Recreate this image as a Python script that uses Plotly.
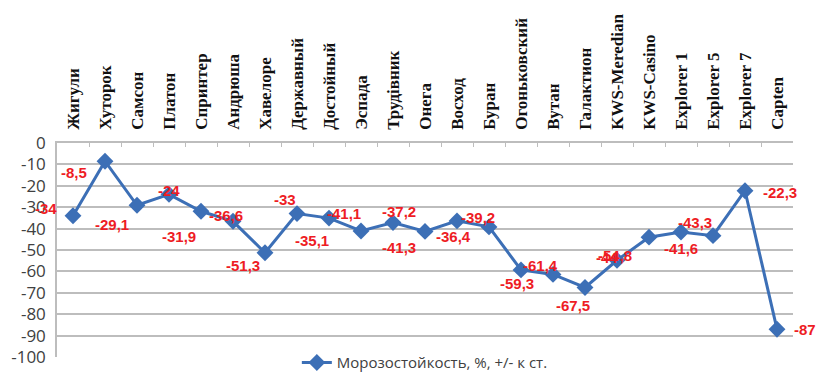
import plotly.graph_objects as go

# Varieties and frost resistance relative to the standard, %
varieties = [
    "Жигули", "Хуторок", "Самсон", "Платон", "Спринтер", "Андрюша",
    "Хавелоре", "Державный", "Достойный", "Эспада", "Трудівник", "Онега",
    "Восход", "Буран", "Огоньковский", "Вутан", "Галактион", "KWS-Meredian",
    "KWS-Casino", "Explorer 1", "Explorer 5", "Explorer 7", "Capten",
]
frost = [
    -34, -8.5, -29.1, -24, -31.9, -36.6, -51.3, -33, -35.1, -41.1, -37.2,
    -41.3, -36.4, -39.2, -59.3, -61.4, -67.5, -54.8, -44, -41.6, -43.3,
    -22.3, -87,
]
y_ticks = [0, -10, -20, -30, -40, -50, -60, -70, -80, -90, -100]

series_name = "Морозостойкость, %, +/- к ст."

# pixel offsets of each data label relative to its point (dx, dy; dy up)
label_offsets = [
    (-27, 7), (-31, -11), (-25, -19), (0, 4), (-22, -25), (-7, 6),
    (-22, -13), (-12, 14), (-17, -22), (-17, 17), (6, 11), (-26, -16),
    (-4, -16), (-11, 9), (-4, -14), (-13, 9), (-12, -18), (-2, 5),
    (-42, -20), (0, -16), (-18, 13), (35, -2), (28, 0),
]

BLUE = "#3c6fb6"
RED = "#ee1c24"
GRID = "#bdbdbd"
AXIS_TEXT = "#404040"

fig = go.Figure()
fig.add_trace(go.Scatter(
    x=varieties,
    y=frost,
    mode="lines+markers",
    name=series_name,
    line=dict(color=BLUE, width=3),
    marker=dict(symbol="diamond", size=13, color=BLUE),
    showlegend=True,
))


def fmt(v):
    return f"{v:g}".replace(".", ",")


annotations = []
for name, v, (dx, dy) in zip(varieties, frost, label_offsets):
    annotations.append(dict(
        x=name, y=v, xref="x", yref="y",
        text=fmt(v), showarrow=False,
        xshift=dx, yshift=dy,
        font=dict(family="Liberation Sans", size=15, color=RED, weight="bold"),
    ))

fig.update_layout(
    width=817, height=374,
    margin=dict(l=57, r=24, t=143, b=17, autoexpand=False),
    paper_bgcolor="white",
    plot_bgcolor="white",
    annotations=annotations,
    legend=dict(
        orientation="h",
        x=0.52, xanchor="center", xref="container",
        y=0.03, yanchor="middle", yref="container",
        font=dict(family="Open Sans", size=15, color=AXIS_TEXT),
        bgcolor="rgba(0,0,0,0)",
        borderwidth=0,
    ),
    xaxis=dict(
        type="category",
        side="top",
        range=[-0.5, len(varieties) - 0.5],
        tickangle=-90,
        tickfont=dict(family="Liberation Serif", size=17, color="#111111",
                      weight="bold"),
        showline=True, linecolor=GRID, linewidth=1.5,
        showgrid=False,
        ticks="inside", ticklen=4, tickcolor=GRID, tickson="boundaries",
        ticklabelstandoff=8,
        zeroline=False,
    ),
    yaxis=dict(
        range=[-100, 0],
        tickvals=y_ticks,
        ticktext=[str(t) for t in y_ticks],
        tickfont=dict(family="Open Sans", size=17, color=AXIS_TEXT),
        showgrid=True, gridcolor=GRID, gridwidth=1.5,
        showline=True, linecolor=GRID, linewidth=1.5,
        zeroline=False,
        ticks="", ticklabelstandoff=6,
    ),
)

fig.write_html("out.html")
